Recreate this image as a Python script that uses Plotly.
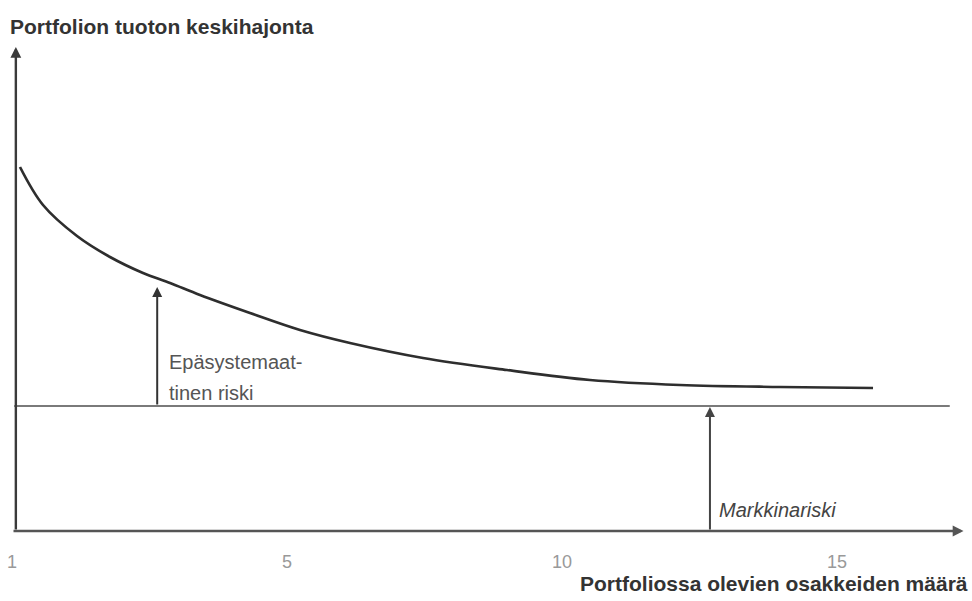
import plotly.graph_objects as go

# ---- data ----
tick_positions = [0, 5, 10, 15]
tick_labels = ["1", "5", "10", "15"]

curve_x = [0.145, 0.564, 1.182, 1.782, 2.382, 2.873, 3.418, 4.327, 5.236, 6.145,
           7.473, 9.0, 10.509, 12.145, 13.964, 15.655]
curve_y = [36.6, 32.8, 29.7, 27.6, 26.0, 25.0, 23.8, 22.0, 20.3, 19.0,
           17.5, 16.3, 15.3, 14.8, 14.6, 14.5]

market_x = [0.04, 17.05]
market_y = [12.7, 12.7]

unsys_arrow_x = 2.64
unsys_arrow_y = [12.7, 24.6]
market_arrow_x = 12.69
market_arrow_y = [0.2, 12.6]

y_title = "Portfolion tuoton keskihajonta"
x_title = "Portfoliossa olevien osakkeiden määrä"
unsys_label = ["Epäsystemaat-", "tinen riski"]
market_label = "Markkinariski"

W, H = 972, 601
PLOT_H = 533
FONT = "Liberation Sans, Arial, sans-serif"

fig = go.Figure()
fig.add_trace(go.Scatter(x=curve_x, y=curve_y, mode="lines",
                         line=dict(color="#2e2e2e", width=2.7, shape="spline", smoothing=1.0),
                         hoverinfo="skip", showlegend=False))
fig.add_trace(go.Scatter(x=market_x, y=market_y, mode="lines",
                         line=dict(color="#7a7a7a", width=1.8),
                         hoverinfo="skip", showlegend=False))

def arrow(x0, y0, x1, y1, color="#333", width=2.0, size=1.0):
    fig.add_annotation(x=x1, y=y1, ax=x0, ay=y0, xref="x", yref="y", axref="x", ayref="y",
                       text="", showarrow=True, arrowhead=2, arrowsize=size,
                       arrowwidth=width, arrowcolor=color)

# axes with arrows
arrow(0.07, 0.2, 0.07, 48.6, color="#3a3a3a", width=2.4, size=0.9)
arrow(0.0, 0.2, 17.3, 0.2, color="#555", width=2.4, size=0.9)
# risk arrows
arrow(unsys_arrow_x, unsys_arrow_y[0], unsys_arrow_x, unsys_arrow_y[1], color="#333", width=2.0, size=1.0)
arrow(market_arrow_x, market_arrow_y[0], market_arrow_x, market_arrow_y[1], color="#444", width=2.0, size=1.0)

def px_x(p):
    return p / W

def px_y(p):
    return (PLOT_H - p) / PLOT_H

fig.add_annotation(x=px_x(167), y=px_y(362), xref="paper", yref="paper", text=unsys_label[0],
                   showarrow=False, xanchor="left", yanchor="middle",
                   font=dict(family=FONT, size=20, color="#555"))
fig.add_annotation(x=px_x(167), y=px_y(393), xref="paper", yref="paper", text=unsys_label[1],
                   showarrow=False, xanchor="left", yanchor="middle",
                   font=dict(family=FONT, size=20, color="#555"))
fig.add_annotation(x=px_x(717), y=px_y(510), xref="paper", yref="paper", text="<i>" + market_label + "</i>",
                   showarrow=False, xanchor="left", yanchor="middle",
                   font=dict(family=FONT, size=20, color="#444"))

fig.add_annotation(x=px_x(8), y=px_y(27), xref="paper", yref="paper", text="<b>" + y_title + "</b>",
                   showarrow=False, xanchor="left", yanchor="middle",
                   font=dict(family=FONT, size=21, color="#333"))
fig.add_annotation(x=px_x(578), y=px_y(583), xref="paper", yref="paper", text="<b>" + x_title + "</b>",
                   showarrow=False, xanchor="left", yanchor="middle",
                   font=dict(family=FONT, size=21, color="#333"))

fig.update_layout(
    width=W, height=H,
    margin=dict(l=0, r=0, t=0, b=H - PLOT_H),
    paper_bgcolor="white", plot_bgcolor="white",
    showlegend=False,
    xaxis=dict(range=[-12 / 55, 960 / 55], tickvals=tick_positions, ticktext=tick_labels,
               showgrid=False, zeroline=False, showline=False, ticks="",
               tickfont=dict(family=FONT, size=18, color="#999"), ticklabelstandoff=16),
    yaxis=dict(range=[0, 53.3], showgrid=False, zeroline=False, showline=False,
               showticklabels=False, ticks=""),
)

fig.write_html("out.html", config={"displayModeBar": False},
               post_script="document.body.style.margin='0';")
